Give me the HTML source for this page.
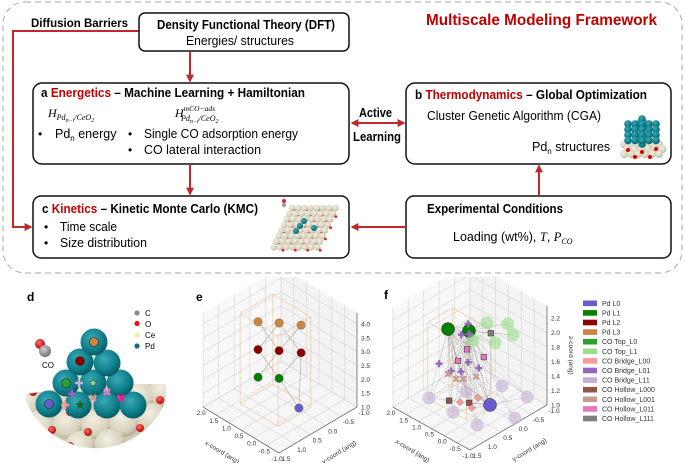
<!DOCTYPE html>
<html><head><meta charset="utf-8">
<style>
html,body{margin:0;padding:0;background:#fff;}
svg{display:block;font-family:"Liberation Sans",sans-serif;}
</style></head>
<body>
<svg id="fig" width="685" height="463" viewBox="0 0 685 463" xmlns="http://www.w3.org/2000/svg">
<defs>
  <marker id="arr" viewBox="0 0 10 10" refX="8" refY="5" markerWidth="4" markerHeight="4" orient="auto-start-reverse">
    <path d="M0,0 L10,5 L0,10 z" fill="#c0282d"/>
  </marker>
  <radialGradient id="teal" cx="0.4" cy="0.35" r="0.7">
    <stop offset="0" stop-color="#3aaab5"/><stop offset="0.6" stop-color="#0f808c"/><stop offset="1" stop-color="#05555e"/>
  </radialGradient>
  <radialGradient id="beige" cx="0.4" cy="0.35" r="0.7">
    <stop offset="0" stop-color="#f2efe2"/><stop offset="0.7" stop-color="#d6d1bb"/><stop offset="1" stop-color="#a9a48e"/>
  </radialGradient>
  <radialGradient id="redg" cx="0.4" cy="0.35" r="0.7">
    <stop offset="0" stop-color="#ff6a6a"/><stop offset="1" stop-color="#b00000"/>
  </radialGradient>
  <radialGradient id="grayg" cx="0.4" cy="0.35" r="0.7">
    <stop offset="0" stop-color="#cfcfcf"/><stop offset="1" stop-color="#6d6d6d"/>
  </radialGradient>
  <clipPath id="bowl"><path d="M26,394 L95,384 L166,384 L166,400 A75,75 0 0 1 26,400 Z"/></clipPath>
  <clipPath id="clipE"><rect x="192" y="277" width="190" height="186"/></clipPath>
  <clipPath id="clipF"><rect x="382" y="277" width="200" height="186"/></clipPath>
</defs>

<rect x="3" y="2" width="679" height="271" rx="22" fill="none" stroke="#aaa" stroke-width="1" stroke-dasharray="6,4"/>
<text x="426" y="25" textLength="231" lengthAdjust="spacingAndGlyphs" font-size="16" font-weight="bold" fill="#c00000">Multiscale Modeling Framework</text>

<text x="31" y="27" textLength="97" lengthAdjust="spacingAndGlyphs" font-size="12" font-weight="bold">Diffusion Barriers</text>
<polyline points="139,31 13,31 13,227 31,227" fill="none" stroke="#c0282d" stroke-width="2" marker-end="url(#arr)"/>

<g>
<rect x="139" y="13" width="210" height="38" rx="6" fill="#fff" stroke="#111" stroke-width="1.5"/>
<text x="157" y="29" textLength="178" lengthAdjust="spacingAndGlyphs" font-size="12.5" font-weight="bold">Density Functional Theory (DFT)</text>
<text x="186" y="45" textLength="108" lengthAdjust="spacingAndGlyphs" font-size="12.5">Energies/ structures</text>
</g>
<line x1="190" y1="51" x2="190" y2="81" stroke="#c0282d" stroke-width="2" marker-end="url(#arr)"/>

<g>
<rect x="33" y="83" width="316" height="81" rx="9" fill="#fff" stroke="#111" stroke-width="1.5"/>
<text x="41" y="97" textLength="264" lengthAdjust="spacingAndGlyphs" font-size="12.5" font-weight="bold">a <tspan fill="#c00000">Energetics</tspan> – Machine Learning + Hamiltonian</text>
<text x="48" y="117" font-family="Liberation Serif,serif" font-style="italic" font-size="12">H<tspan font-size="8" dy="3">Pd</tspan><tspan font-size="6" dy="2">n−i</tspan><tspan font-size="8" dy="-2">/CeO</tspan><tspan font-size="6" dy="2">2</tspan></text>
<text x="175" y="117" font-family="Liberation Serif,serif" font-style="italic" font-size="12">H<tspan font-size="7.5" dy="-6">mCO−ads</tspan><tspan font-size="8" dx="-34" dy="10">Pd</tspan><tspan font-size="6" dy="2">n−i</tspan><tspan font-size="8" dy="-2">/CeO</tspan><tspan font-size="6" dy="2">2</tspan></text>
<text x="38" y="138" font-size="12">•</text>
<text x="55" y="138" font-size="12.5">Pd<tspan font-size="8" dy="3">n</tspan><tspan dy="-3"> energy</tspan></text>
<text x="128" y="138" font-size="12">•</text>
<text x="144" y="138" textLength="154" lengthAdjust="spacingAndGlyphs" font-size="12.5">Single CO adsorption energy</text>
<text x="128" y="154" font-size="12">•</text>
<text x="144" y="154" textLength="117" lengthAdjust="spacingAndGlyphs" font-size="12.5">CO lateral interaction</text>
</g>

<text x="359" y="117" textLength="33" lengthAdjust="spacingAndGlyphs" font-size="12.5" font-weight="bold">Active</text>
<text x="353" y="141" textLength="48" lengthAdjust="spacingAndGlyphs" font-size="12.5" font-weight="bold">Learning</text>
<line x1="352" y1="123" x2="404" y2="123" stroke="#c0282d" stroke-width="2" marker-start="url(#arr)" marker-end="url(#arr)"/>

<g>
<rect x="406" y="83" width="265" height="81" rx="9" fill="#fff" stroke="#111" stroke-width="1.5"/>
<text x="415" y="99" textLength="232" lengthAdjust="spacingAndGlyphs" font-size="12.5" font-weight="bold">b <tspan fill="#c00000">Thermodynamics</tspan> – Global Optimization</text>
<text x="427" y="120" textLength="174" lengthAdjust="spacingAndGlyphs" font-size="12.5">Cluster Genetic Algorithm (CGA)</text>
<text x="532" y="151" font-size="12.5">Pd<tspan font-size="8" dy="3">n</tspan><tspan dy="-3"> structures</tspan></text>
<g id="cluster"></g>
</g>

<line x1="190" y1="164" x2="190" y2="194" stroke="#c0282d" stroke-width="2" marker-end="url(#arr)"/>

<g>
<rect x="33" y="196" width="316" height="62" rx="8" fill="#fff" stroke="#111" stroke-width="1.5"/>
<text x="42" y="213" textLength="216" lengthAdjust="spacingAndGlyphs" font-size="12.5" font-weight="bold">c <tspan fill="#c00000">Kinetics</tspan> – Kinetic Monte Carlo (KMC)</text>
<text x="44" y="231" font-size="12">•</text>
<text x="60" y="231" textLength="57" lengthAdjust="spacingAndGlyphs" font-size="12.5">Time scale</text>
<text x="44" y="247" font-size="12">•</text>
<text x="60" y="247" textLength="87" lengthAdjust="spacingAndGlyphs" font-size="12.5">Size distribution</text>
<g id="slab"></g>
</g>

<g>
<rect x="406" y="196" width="265" height="62" rx="8" fill="#fff" stroke="#111" stroke-width="1.5"/>
<text x="427" y="213" textLength="136" lengthAdjust="spacingAndGlyphs" font-size="12.5" font-weight="bold">Experimental Conditions</text>
<text x="453" y="241" font-size="12.5">Loading (wt%), <tspan font-family="Liberation Serif,serif" font-style="italic">T</tspan>, <tspan font-family="Liberation Serif,serif" font-style="italic">P<tspan font-size="8" dy="3">CO</tspan></tspan></text>
</g>
<line x1="406" y1="227" x2="352" y2="227" stroke="#c0282d" stroke-width="2" marker-end="url(#arr)"/>
<line x1="539" y1="196" x2="539" y2="166" stroke="#c0282d" stroke-width="2" marker-end="url(#arr)"/>

<g>
<text x="27" y="301" font-size="12" font-weight="bold">d</text>
<g clip-path="url(#bowl)" id="ceBase"><rect x="20" y="380" width="150" height="70" fill="#cfcab4"/></g>
<g id="pdPyramid"></g>
<circle cx="40" cy="344" r="5" fill="url(#redg)"/>
<circle cx="45" cy="351" r="6" fill="url(#grayg)"/>
<text x="42" y="368" font-size="8">CO</text>
<g>
<circle cx="137" cy="313" r="2.6" fill="#8a8a8a"/><text x="145" y="316" font-size="8">C</text>
<circle cx="137" cy="323.5" r="2.6" fill="#ee1111"/><text x="145" y="327" font-size="8">O</text>
<circle cx="137" cy="335" r="2.6" fill="#eeeebb"/><text x="145" y="338" font-size="8">Ce</text>
<circle cx="137" cy="346" r="2.6" fill="#0e6f7c"/><text x="145" y="349" font-size="8">Pd</text>
</g>
</g>

<text x="196" y="301" font-size="12" font-weight="bold">e</text>
<g id="panelE" clip-path="url(#clipE)"></g>
<text x="384" y="299" font-size="12" font-weight="bold">f</text>
<g id="panelF" clip-path="url(#clipF)"></g>
<g id="legendF"></g>
</svg>

<script>
// ---------- data: panel e ----------
const eLayers = ['Pd L3','Pd L3','Pd L3','Pd L2','Pd L2','Pd L2','Pd L1','Pd L1','Pd L0'];
const eX = [1.0, 0.55, 0.05, 1.0, 0.55, 0.05, 1.0, 0.55, 0.1];
const eY = [0.55, 0.24, -0.06, 0.55, 0.24, -0.06, 0.55, 0.24, -0.03];
const eZ = [4, 4, 4, 3, 3, 3, 2, 2, 1];
const eBondA = [0, 1, 1, 2, 3, 4, 5, 7, 5];
const eBondB = [4, 3, 5, 4, 7, 6, 7, 8, 8];
const eXTicks = [2.0, 1.5, 1.0, 0.5, 0.0, -0.5, -1.0];
const eYTicks = [-1.0, -0.5, 0.0, 0.5, 1.0, 1.5];
const eZTicks = [1.0, 1.5, 2.0, 2.5, 3.0, 3.5, 4.0];

// ---------- data: panel f ----------
const fCats = ['Pd L1','Pd L1','Pd L0',
 'CO Top_L1','CO Top_L1','CO Top_L1','CO Top_L1','CO Top_L1',
 'CO Bridge_L11','CO Bridge_L11','CO Bridge_L11','CO Bridge_L11','CO Bridge_L11','CO Bridge_L11','CO Bridge_L11',
 'CO Bridge_L01','CO Bridge_L01','CO Bridge_L01','CO Bridge_L01','CO Bridge_L01','CO Bridge_L01','CO Bridge_L01','CO Bridge_L01',
 'CO Hollow_L011','CO Hollow_L011','CO Hollow_L011',
 'CO Hollow_L001','CO Hollow_L001','CO Hollow_L001','CO Hollow_L001',
 'CO Hollow_L000','CO Hollow_L000',
 'CO Bridge_L00','CO Bridge_L00','CO Bridge_L00',
 'CO Hollow_L111'];
const fX = [1.09,0.61,0.14, 0.40,-0.05,-0.53,-0.44,0.07, 1.59,0.63,1.06,0.55,-0.33,-0.80,-0.29,
 0.71,0.55,1.15,0.91,0.71,0.57,0.36,0.57, 0.59,0.26,0.77, 0.81,0.67,0.42,0.97, 0.95,0.55, 0.73,0.38,0.50, 0.12];
const fY = [0.47,0.19,-0.10, -0.22,-0.52,-0.29,0.22,0.51, 0.67,0.69,-0.09,-0.83,-0.91,-0.12,0.68,
 0.36,0.23,0.71,0.52,0.36,0.25,0.08,0.25, 0.27,0.00,0.41, 0.44,0.33,0.12,0.57, 0.55,0.23, 0.38,0.09,0.19, -0.11];
const fZ = [2.0,2.0,1.0, 2.05,2.05,2.05,2.05,2.05, 1.0,1.0,1.0,1.0,1.0,1.0,1.0,
 1.97,1.98,1.57,1.47,1.46,1.59,1.51,2.12, 1.77,1.66,1.61, 1.36,1.36,1.39,1.43, 1.06,1.03, 1.04,1.10,0.96, 1.99];
const fXTicks = [2.0, 1.5, 1.0, 0.5, 0.0, -0.5, -1.0];
const fYTicks = [-1.0, -0.5, 0.0, 0.5, 1.0, 1.5];
const fZTicks = [1.0, 1.2, 1.4, 1.6, 1.8, 2.0, 2.2];
const legendLabels = ['Pd L0','Pd L1','Pd L2','Pd L3','CO Top_L0','CO Top_L1','CO Bridge_L00','CO Bridge_L01','CO Bridge_L11','CO Hollow_L000','CO Hollow_L001','CO Hollow_L011','CO Hollow_L111'];
const legendColors = ['#6a5acd','#008000','#8b0000','#cd853f','#2ca02c','#98df8a','#ff9896','#9467bd','#c5b0d5','#8c564b','#c49c94','#e377c2','#7f7f7f'];

const NS = 'http://www.w3.org/2000/svg';
function mk(tag, attrs, parent){
  const n = document.createElementNS(NS, tag);
  for (const k in attrs) n.setAttribute(k, attrs[k]);
  parent.appendChild(n);
  return n;
}
function colorOf(c){ return legendColors[legendLabels.indexOf(c)]; }

function pe(x,y,z){ return [279+(x+1)*-25.3+(y-1.5)*-31.2, 453+(x+1)*-15.3+(y-1.5)*18.4-(z-1)*27.7]; }
function pf(x,y,z){ return [470+(x+1)*-25.7+(y-1.5)*-30.8, 450+(x+1)*-14.3+(y-1.5)*18-(z-1)*72.5]; }

function axes3d(g, P, zmax, xt, yt, zt, xTitle, yTitle, zTitle){
  const pts = a => a.map(p => p.join(',')).join(' ');
  const pl = mk('polygon',{points:pts([P(2,1.5,1),P(2,-1,1),P(2,-1,zmax),P(2,1.5,zmax)]),fill:'#f8f8f8',stroke:'none'},g);
  
  
  const pr = mk('polygon',{points:pts([P(2,-1,1),P(-1,-1,1),P(-1,-1,zmax),P(2,-1,zmax)]),fill:'#f3f3f3',stroke:'none'},g);
  
  
  const pfl = mk('polygon',{points:pts([P(2,1.5,1),P(2,-1,1),P(-1,-1,1),P(-1,1.5,1)]),fill:'#f6f6f6',stroke:'none'},g);
  
  
  const grid = (a,b) => { const l = mk('line',{x1:a[0],y1:a[1],x2:b[0],y2:b[1],stroke:'#d9d9d9','stroke-width':0.7},g);
    
     };
  xt.forEach(v => { grid(P(v,-1,1),P(v,1.5,1)); grid(P(v,-1,1),P(v,-1,zmax)); });
  yt.forEach(v => { grid(P(-1,v,1),P(2,v,1)); grid(P(2,v,1),P(2,v,zmax)); });
  zt.forEach(v => { grid(P(2,1.5,v),P(2,-1,v)); grid(P(2,-1,v),P(-1,-1,v)); });
  const ax = (a,b) => { const l = mk('line',{x1:a[0],y1:a[1],x2:b[0],y2:b[1],stroke:'#444','stroke-width':0.6},g);
    
     };
  ax(P(2,1.5,1),P(-1,1.5,1)); ax(P(-1,1.5,1),P(-1,-1,1)); ax(P(-1,-1,1),P(-1,-1,zmax));
  xt.forEach(v => { const p = P(v,1.5,1);
    const t = mk('text',{x:p[0]-2,y:p[1]+8,'font-size':6.5,fill:'#333','text-anchor':'middle'},g);
    t.textContent = v.toFixed(1);
    
     });
  yt.forEach(v => { const p = P(-1,v,1);
    const t = mk('text',{x:p[0]+7,y:p[1]+8,'font-size':6.5,fill:'#333','text-anchor':'middle'},g);
    t.textContent = v.toFixed(1);
    
     });
  zt.forEach(v => { const p = P(-1,-1,v);
    const t = mk('text',{x:p[0]+4,y:p[1]+2.5,'font-size':6.5,fill:'#333'},g);
    t.textContent = v.toFixed(1);
    
     });
  const a1 = P(0.5,1.5,1), a2 = P(-1,0.25,1);
  const xtT = mk('text',{x:a1[0]-20,y:a1[1]+24,'font-size':6.5,fill:'#333','text-anchor':'middle',transform:'rotate(31 '+(a1[0]-20)+' '+(a1[1]+24)+')'},g);
  xtT.textContent = xTitle;
  
  
  const ytT = mk('text',{x:a2[0]+22,y:a2[1]+24,'font-size':6.5,fill:'#333','text-anchor':'middle',transform:'rotate(-31 '+(a2[0]+22)+' '+(a2[1]+24)+')'},g);
  ytT.textContent = yTitle;
  
  
  if (zTitle){ const p = P(-1,-1,(1+zmax)/2);
    const zT = mk('text',{x:p[0]+22,y:p[1],'font-size':6.5,fill:'#333','text-anchor':'middle',transform:'rotate(90 '+(p[0]+22)+' '+p[1]+')'},g);
    zT.textContent = zTitle;
    
     }
}
function wire(g, P, x0,x1,y0,y1,z0,z1){
  const c = [[x0,y0],[x1,y0],[x1,y1],[x0,y1]];
  const ln = (a,b) => { const l = mk('line',{x1:a[0],y1:a[1],x2:b[0],y2:b[1],stroke:'#e8c9a0','stroke-width':0.7},g);
    
     };
  for (let i=0;i<4;i++){ const a=c[i], b=c[(i+1)%4];
    ln(P(a[0],a[1],z0),P(b[0],b[1],z0)); ln(P(a[0],a[1],z1),P(b[0],b[1],z1)); ln(P(a[0],a[1],z0),P(a[0],a[1],z1)); }
}

const gE = document.getElementById('panelE');
axes3d(gE, pe, 4.4, eXTicks, eYTicks, eZTicks, 'x-coord (ang)', 'y-coord (ang)', null);
wire(gE, pe, -0.1, 1.4, -0.25, 0.8, 1, 4.25);
eBondA.forEach((a,i) => { const p=pe(eX[a],eY[a],eZ[a]), q=pe(eX[eBondB[i]],eY[eBondB[i]],eZ[eBondB[i]]);
  const l = mk('line',{x1:p[0],y1:p[1],x2:q[0],y2:q[1],stroke:'#aaa','stroke-width':0.6},gE);
  
   });
eX.forEach((x,i) => { const p = pe(x,eY[i],eZ[i]);
  const c = mk('circle',{cx:p[0],cy:p[1],r:4.2,fill:colorOf(eLayers[i]),stroke:'#555','stroke-width':0.4},gE);
  
   });

const gF = document.getElementById('panelF');
axes3d(gF, pf, 2.37, fXTicks, fYTicks, fZTicks, 'x-coord (ang)', 'y-coord (ang)', 'z-coord (ang)');
wire(gF, pf, 0.1, 1.6, -0.1, 0.7, 1, 2.05);
const anchors = [0,1,2];
fX.forEach((x,i) => { if (i<3) return; anchors.forEach(a => {
  if (fCats[i]==='CO Top_L1' && a===2) return;
  const p = pf(x,fY[i],fZ[i]), q = pf(fX[a],fY[a],fZ[a]);
  const l = mk('line',{x1:p[0],y1:p[1],x2:q[0],y2:q[1],stroke:'#999','stroke-width':0.4,'stroke-dasharray':'1.5,1'},gF);
  
   }); });
fX.forEach((x,i) => { const p = pf(x,fY[i],fZ[i]); const cat = fCats[i]; const col = colorOf(cat); let m;
  if (cat.startsWith('Pd')) m = mk('circle',{cx:p[0],cy:p[1],r:6.5,fill:col,stroke:'#222','stroke-width':0.5},gF);
  else if (cat==='CO Top_L1' || cat==='CO Bridge_L11') m = mk('circle',{cx:p[0],cy:p[1],r:6.5,fill:col,'fill-opacity':0.6},gF);
  else if (cat==='CO Bridge_L01') m = mk('path',{d:'M'+(p[0]-3.5)+','+p[1]+'h7M'+p[0]+','+(p[1]-3.5)+'v7',stroke:col,'stroke-width':2.4},gF);
  else if (cat==='CO Hollow_L001') m = mk('path',{d:'M'+(p[0]-2.8)+','+(p[1]-2.8)+'l5.6,5.6M'+(p[0]+2.8)+','+(p[1]-2.8)+'l-5.6,5.6',stroke:col,'stroke-width':2.2},gF);
  else if (cat==='CO Bridge_L00') m = mk('polygon',{points:[[p[0],p[1]-3.5],[p[0]+3.5,p[1]],[p[0],p[1]+3.5],[p[0]-3.5,p[1]]].join(' '),fill:col,stroke:'#555','stroke-width':0.4},gF);
  else m = mk('rect',{x:p[0]-2.8,y:p[1]-2.8,width:5.6,height:5.6,fill:col,stroke:'#333','stroke-width':0.5},gF);
  
   });

const gL = document.getElementById('legendF');
legendLabels.forEach((lab,i) => { const y = 303.3 + i*9.6;
  const r = mk('rect',{x:583,y:y-2.8,width:14,height:5.6,fill:legendColors[i]},gL);
  
  
  const t = mk('text',{x:602,y:y+2.5,'font-size':7,fill:'#333'},gL);
  t.textContent = lab;
  
   });

const ce = document.getElementById('ceBase');
[[28,402],[56,400],[84,400],[112,398],[140,396],[164,392],[40,425],[68,424],[96,424],[124,422],[152,418],[80,446],[110,444]].forEach(c => {
  const s = mk('circle',{cx:c[0],cy:c[1],r:15,fill:'url(#beige)'},ce);
  
   });
[[33,392],[70,412],[100,412],[128,410],[160,400],[52,430],[88,432],[140,428],[70,446]].forEach(c => {
  const s = mk('circle',{cx:c[0],cy:c[1],r:4,fill:'url(#redg)'},ce);
  
   });
const pyr = document.getElementById('pdPyramid');
[[49,404],[78,405],[107,405],[133,405],[66,383],[93,383],[120,383],[80,362],[107,363],[94,342]].forEach(c => {
  const s = mk('circle',{cx:c[0],cy:c[1],r:13.5,fill:'url(#teal)'},pyr);
  
   });
const dm = [['c',49,404,'#6a5acd'],['c',94,342,'#cd853f'],['c',80,361,'#8b0000'],['c',66,383,'#2ca02c'],
 ['p',79,383,'#c5b0d5'],['s',93,383,'#98df8a'],['p',72,394,'#9467bd'],['x',107,392,'#e377c2'],['x',121,398,'#ff1493'],
 ['x',93,398,'#c49c94'],['p',65,405,'#ff9896'],['s',80,405,'#008000']];
dm.forEach(d => { let m; const [k,x,y,c] = d;
  if (k==='c') m = mk('circle',{cx:x,cy:y,r:4.5,fill:c,stroke:'#222','stroke-width':0.6},pyr);
  else if (k==='p') m = mk('path',{d:'M'+(x-4)+','+y+'h8M'+x+','+(y-4)+'v8',stroke:c,'stroke-width':2.6},pyr);
  else if (k==='x') m = mk('path',{d:'M'+(x-3)+','+(y-3)+'l6,6M'+(x+3)+','+(y-3)+'l-6,6',stroke:c,'stroke-width':2.6},pyr);
  else { let pts=[]; for(let j=0;j<10;j++){const r=j%2?1.8:4.2,a=-Math.PI/2+j*Math.PI/5; pts.push((x+r*Math.cos(a)).toFixed(1)+','+(y+r*Math.sin(a)).toFixed(1));}
    m = mk('polygon',{points:pts.join(' '),fill:c,stroke:'#222','stroke-width':0.4},pyr); }
  
   });

const cl = document.getElementById('cluster');
for (let i=0;i<6;i++) for (let j=0;j<3;j++){ const s = mk('circle',{cx:624+i*7+(j%2)*3.5,cy:144+j*5,r:4,fill:'url(#beige)'},cl);
  
   }
[[628,150],[642,152],[656,149],[635,157],[650,157]].forEach(c => { const s = mk('circle',{cx:c[0],cy:c[1],r:2,fill:'#d00'},cl);
  
   });
for (let r=0;r<6;r++){ const n = r<3 ? r+1 : 6-r; for (let k=0;k<n;k++){
  const s = mk('circle',{cx:642-(n-1)*3.5+k*7,cy:119+r*5,r:3.8,fill:'url(#teal)'},cl);
  
   } }
for (let r=0;r<4;r++){ for (let k=0;k<5;k++){
  const s = mk('circle',{cx:628+k*7,cy:124+r*5.5,r:3.8,fill:'url(#teal)'},cl);
  
   } }

const sl = document.getElementById('slab');
for (let r=0;r<8;r++) for (let k=0;k<8;k++){
  const s = mk('circle',{cx:292+k*6.2-r*2.6,cy:208+r*5.6,r:3.3,fill:'url(#beige)'},sl);
  
  
  if ((r+k)%2===0){ const o = mk('circle',{cx:295+k*6.2-r*2.6,cy:211+r*5.6,r:1.4,fill:'#d22'},sl);
    
     } }
[[300,226],[304,221],[314,228],[296,231]].forEach(c => { const s = mk('circle',{cx:c[0],cy:c[1],r:3,fill:'url(#teal)'},sl);
  
   });
const co1 = mk('circle',{cx:284,cy:201,r:2,fill:'#d22'},sl);


const co2 = mk('circle',{cx:284,cy:205,r:2,fill:'#999'},sl);


</script>
</body></html>
